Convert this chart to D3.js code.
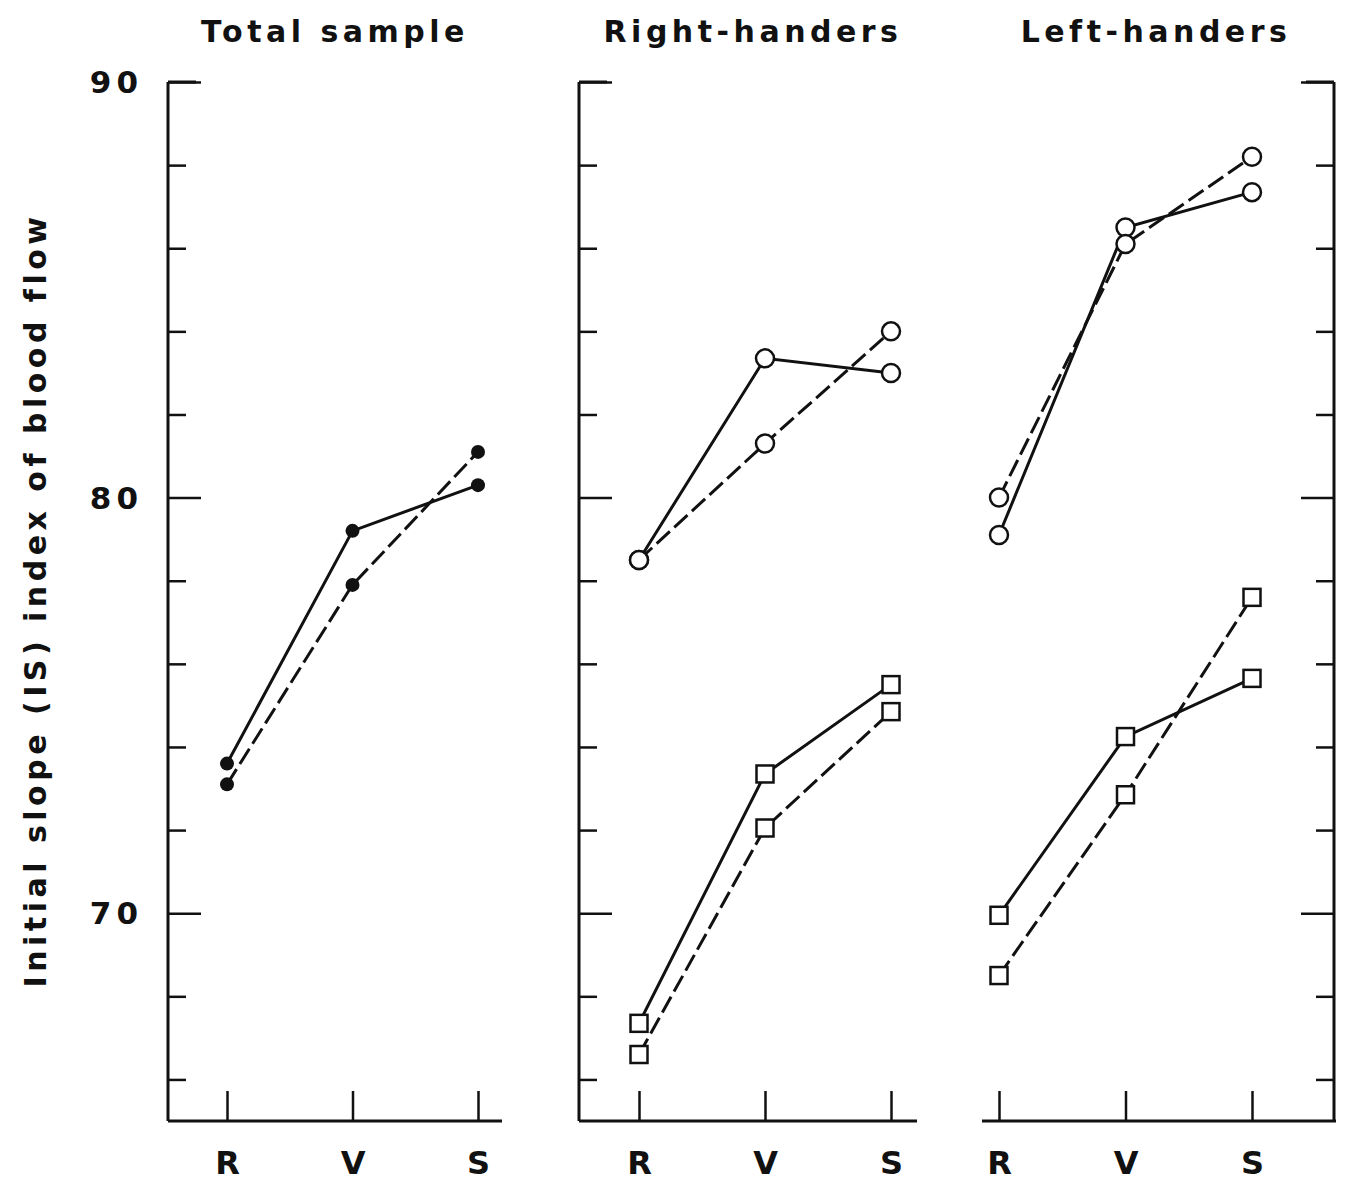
<!DOCTYPE html>
<html>
<head>
<meta charset="utf-8">
<script src="https://cdn.jsdelivr.net/npm/d3@7"></script>
<style>
  html, body { margin: 0; padding: 0; background: #fff; }
  svg { display: block; }
  text { font-family: "DejaVu Sans", "Liberation Sans", sans-serif; fill: #111; font-weight: bold; }
</style>
</head>
<body>
<svg id="chart" width="1349" height="1184"></svg>
<script>
// ---------------- data ----------------
const categories = ["R", "V", "S"];
const panelTitles = ["Total sample", "Right-handers", "Left-handers"];
const yTicks = [66, 68, 70, 72, 74, 76, 78, 80, 82, 84, 86, 88, 90];
const yLabelTicks = [70, 80, 90];
const yTitle = "Initial slope (IS) index of blood flow";

// Total sample (filled circles)
const totalSolid  = [73.6, 79.2, 80.3];
const totalDashed = [73.1, 77.9, 81.1];
// Right-handers
const rightCircleSolid  = [78.5, 83.35, 83.0];
const rightCircleDashed = [78.5, 81.3, 84.0];
const rightSquareSolid  = [67.35, 73.35, 75.5];
const rightSquareDashed = [66.6, 72.05, 74.85];
// Left-handers
const leftCircleSolid  = [79.1, 86.5, 87.35];
const leftCircleDashed = [80.0, 86.1, 88.2];
const leftSquareSolid  = [69.95, 74.25, 75.65];
const leftSquareDashed = [68.5, 72.85, 77.6];

// ---------------- layout ----------------
const svg = d3.select("#chart");
const yScale = d3.scaleLinear().domain([65, 90]).range([1121, 82]);

const panels = [
  { title: panelTitles[0], titleX: 335, xRange: [227, 478], axisLine: [168, 502], yAxisX: 168, yAxisSide: "left", labels: true,
    series: [
      { values: totalSolid, dashed: false, marker: "dot" },
      { values: totalDashed, dashed: true, marker: "dot" }
    ] },
  { title: panelTitles[1], titleX: 753, xRange: [639, 891], axisLine: [579, 917], yAxisX: 579, yAxisSide: "left", labels: false,
    series: [
      { values: rightCircleSolid, dashed: false, marker: "circle" },
      { values: rightCircleDashed, dashed: true, marker: "circle" },
      { values: rightSquareSolid, dashed: false, marker: "square" },
      { values: rightSquareDashed, dashed: true, marker: "square" }
    ] },
  { title: panelTitles[2], titleX: 1156, xRange: [999, 1252], axisLine: [982, 1336], yAxisX: 1334, yAxisSide: "right", labels: false,
    series: [
      { values: leftCircleSolid, dashed: false, marker: "circle" },
      { values: leftCircleDashed, dashed: true, marker: "circle" },
      { values: leftSquareSolid, dashed: false, marker: "square" },
      { values: leftSquareDashed, dashed: true, marker: "square" }
    ] }
];

const major = new Set(yLabelTicks);

panels.forEach(p => {
  const g = svg.append("g");
  const x = d3.scalePoint().domain(categories).range(p.xRange);

  // title
  g.append("text")
    .attr("x", p.titleX).attr("y", 42)
    .attr("text-anchor", "middle")
    .style("font-size", "30px").style("letter-spacing", "4.5px")
    .text(p.title);

  // y axis (ticks pointing inward)
  const yAxis = (p.yAxisSide === "left" ? d3.axisRight(yScale) : d3.axisLeft(yScale))
    .tickValues(yTicks).tickSizeOuter(0).tickFormat("");
  const ya = g.append("g").attr("transform", `translate(${p.yAxisX},0)`).call(yAxis);
  ya.select(".domain").attr("d", `M0,${yScale(90)}V${yScale(65)}`).attr("stroke", "#111").attr("stroke-width", 3);
  const dir = p.yAxisSide === "left" ? 1 : -1;
  ya.selectAll(".tick line")
    .attr("x2", d => dir * (major.has(d) ? 33 : 18))
    .attr("stroke", "#111").attr("stroke-width", 2.5);
  // top cap tick
  ya.append("line").attr("x1", 0).attr("x2", dir * 28)
    .attr("y1", yScale(90)).attr("y2", yScale(90))
    .attr("stroke", "#111").attr("stroke-width", 3);

  if (p.labels) {
    g.selectAll(".ylab").data(yLabelTicks).join("text")
      .attr("x", 143).attr("y", d => yScale(d))
      .attr("dy", "0.36em").attr("text-anchor", "end")
      .style("font-size", "31px").style("letter-spacing", "5px")
      .text(d => d);
  }

  // x axis (ticks pointing up, labels below)
  const xAxis = d3.axisBottom(x).tickSizeInner(-30).tickSizeOuter(0).tickPadding(44);
  const xa = g.append("g").attr("transform", `translate(0,${yScale(65)})`).call(xAxis);
  xa.select(".domain").attr("d", `M${p.axisLine[0]},0H${p.axisLine[1]}`).attr("stroke", "#111").attr("stroke-width", 3);
  xa.selectAll(".tick line").attr("stroke", "#111").attr("stroke-width", 2.5);
  xa.selectAll(".tick text")
    .style("font-size", "32px").style("font-family", "DejaVu Sans, sans-serif").style("font-weight", "bold")
    .attr("fill", "#111").attr("y", 30).attr("dy", "0.71em");

  // series
  const line = d3.line().x((d, i) => x(categories[i])).y(d => yScale(d));
  p.series.forEach(s => {
    g.append("path")
      .datum(s.values)
      .attr("d", line)
      .attr("fill", "none")
      .attr("stroke", "#111")
      .attr("stroke-width", 3)
      .attr("stroke-dasharray", s.dashed ? "18,6" : null);
  });
  p.series.forEach(s => {
    const pts = s.values.map((v, i) => ({ x: x(categories[i]), y: yScale(v) }));
    if (s.marker === "dot") {
      g.selectAll(null).data(pts).join("circle")
        .attr("cx", d => d.x).attr("cy", d => d.y).attr("r", 7)
        .attr("fill", "#111");
    } else if (s.marker === "circle") {
      g.selectAll(null).data(pts).join("circle")
        .attr("cx", d => d.x).attr("cy", d => d.y).attr("r", 9)
        .attr("fill", "#fff").attr("stroke", "#111").attr("stroke-width", 2.5);
    } else {
      g.selectAll(null).data(pts).join("rect")
        .attr("x", d => d.x - 8.5).attr("y", d => d.y - 8.5)
        .attr("width", 17).attr("height", 17)
        .attr("fill", "#fff").attr("stroke", "#111").attr("stroke-width", 2.5);
    }
  });
});

// y axis title
svg.append("text")
  .attr("transform", "translate(46,600) rotate(-90)")
  .attr("text-anchor", "middle")
  .style("font-size", "30px").style("letter-spacing", "4.5px")
  .text(yTitle);
</script>
</body>
</html>
